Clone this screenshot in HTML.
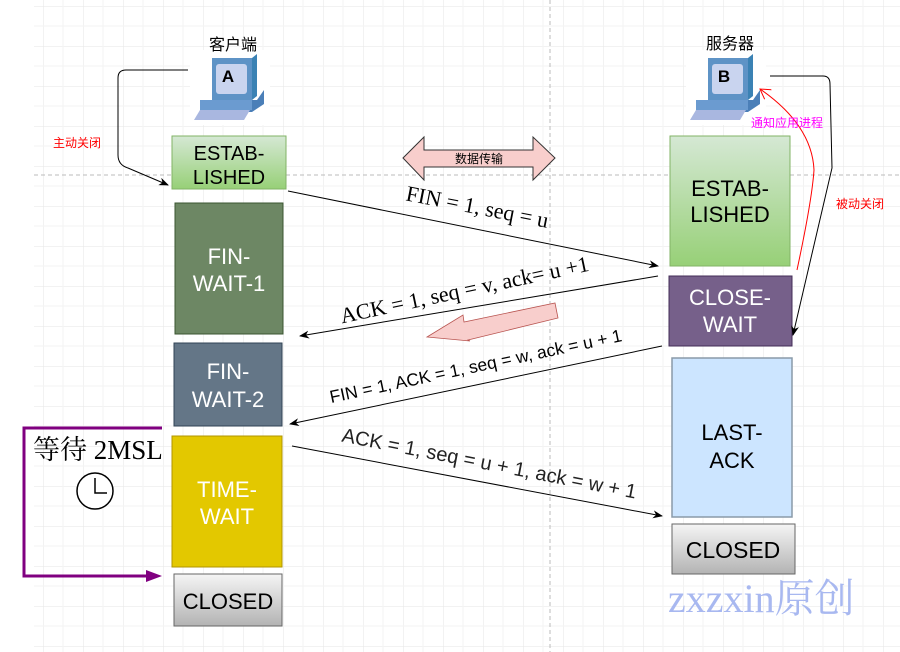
<!DOCTYPE html>
<html><head><meta charset="utf-8"><style>
body{margin:0;background:#fff}
svg{display:block}
</style></head><body>
<svg width="900" height="652" viewBox="0 0 900 652" xmlns="http://www.w3.org/2000/svg" font-family="Liberation Sans, Noto Sans CJK SC, sans-serif">
<defs>
<pattern id="g" x="3" y="6" width="40" height="40" patternUnits="userSpaceOnUse">
<path d="M0 0H40M0 0V40" stroke="#e6e6e6" stroke-width="1" fill="none"/>
<path d="M0 20H40M20 0V40" stroke="#f3f3f3" stroke-width="1" fill="none"/>
</pattern>
<linearGradient id="gr" x1="0" y1="0" x2="0" y2="1"><stop offset="0" stop-color="#d5e8d4"/><stop offset="1" stop-color="#97d077"/></linearGradient>
<linearGradient id="gy" x1="0" y1="0" x2="0" y2="1"><stop offset="0" stop-color="#f5f5f5"/><stop offset="1" stop-color="#b3b3b3"/></linearGradient>
<marker id="a" markerWidth="10" markerHeight="8" refX="9" refY="4" orient="auto" markerUnits="userSpaceOnUse"><path d="M0 0L10 4L0 8L3 4Z" fill="#000"/></marker>
<marker id="ar" markerWidth="12" markerHeight="12" refX="10" refY="6" orient="auto" markerUnits="userSpaceOnUse"><path d="M0 0L10 6L0 12" stroke="#f00" fill="none"/></marker>
</defs>
<rect x="34" y="0" width="866" height="652" fill="url(#g)"/>
<line x1="34" y1="175" x2="900" y2="175" stroke="#bbb" stroke-dasharray="4 3"/>
<line x1="550" y1="0" x2="550" y2="652" stroke="#bbb" stroke-dasharray="4 3"/>

<g id="pc">
<rect x="190" y="50" width="80" height="75" fill="#fff"/>
<polygon points="212,58 252,58 257,54 257,96 252,100 212,100" fill="#3b82b4"/>
<rect x="212" y="58" width="40" height="42" fill="#5e93c6"/>
<rect x="216" y="64" width="31" height="30" rx="3" fill="#c9d4ef"/>
<polygon points="200,100 257,100 264,90 264,104 252,112 200,112" fill="#4b7fb8"/>
<rect x="200" y="100" width="52" height="10" fill="#6b9bd0"/>
<polygon points="194,120 244,120 250,110 200,110" fill="#a9b7e0"/>
</g>
<text x="228" y="82" font-size="17" font-weight="bold" text-anchor="middle">A</text>
<use href="#pc" x="496"/>
<text x="724" y="82" font-size="17" font-weight="bold" text-anchor="middle">B</text>
<text x="233" y="50" font-size="16" text-anchor="middle">客户端</text>
<text x="730" y="49" font-size="16" text-anchor="middle">服务器</text>

<rect x="172" y="136" width="114" height="53" fill="url(#gr)" stroke="#82b366"/>
<text font-size="20" text-anchor="middle"><tspan x="229" y="160">ESTAB-</tspan><tspan x="229" y="184">LISHED</tspan></text>
<rect x="175" y="203" width="108" height="131" fill="#6d8764" stroke="#3a5431"/>
<text font-size="22" fill="#fff" text-anchor="middle"><tspan x="229" y="264">FIN-</tspan><tspan x="229" y="291">WAIT-1</tspan></text>
<rect x="174" y="343" width="108" height="83" fill="#647687" stroke="#314354"/>
<text font-size="22" fill="#fff" text-anchor="middle"><tspan x="228" y="379">FIN-</tspan><tspan x="228" y="407">WAIT-2</tspan></text>
<rect x="172" y="436" width="110" height="131" fill="#e3c800" stroke="#b09500"/>
<text font-size="22" fill="#fff" text-anchor="middle"><tspan x="227" y="497">TIME-</tspan><tspan x="227" y="524">WAIT</tspan></text>
<rect x="174" y="574" width="108" height="52" fill="url(#gy)" stroke="#666"/>
<text x="228" y="609" font-size="22" text-anchor="middle">CLOSED</text>

<rect x="670" y="136" width="120" height="130" fill="url(#gr)" stroke="#82b366"/>
<text font-size="22" text-anchor="middle"><tspan x="730" y="196">ESTAB-</tspan><tspan x="730" y="222">LISHED</tspan></text>
<rect x="669" y="276" width="123" height="70" fill="#76608a" stroke="#432d57"/>
<text font-size="22" fill="#fff" text-anchor="middle"><tspan x="730" y="305">CLOSE-</tspan><tspan x="730" y="332">WAIT</tspan></text>
<rect x="672" y="358" width="120" height="159" fill="#cce5ff" stroke="#8a9aa8" stroke-width="1.5"/>
<text font-size="22" text-anchor="middle"><tspan x="732" y="440">LAST-</tspan><tspan x="732" y="468">ACK</tspan></text>
<rect x="672" y="524" width="123" height="50" fill="url(#gy)" stroke="#666"/>
<text x="733" y="558" font-size="23" text-anchor="middle">CLOSED</text>

<text x="668" y="612" font-size="40" fill="#a8b8f0" font-family="Liberation Serif, Noto Serif CJK SC, serif">zxzxin原创</text>

<polygon points="403,158 424,137 424,150 533,150 533,137 555,158 533,180 533,167 424,167 424,180" fill="#f8cecc" stroke="#333"/>
<text x="479" y="163" font-size="12" text-anchor="middle">数据传输</text>

<polygon points="555,303 558,318 468,340 470,341 427,337 463,315 464,322" fill="#f8cecc" stroke="#b85450" stroke-width="0.8"/>

<line x1="288" y1="191" x2="658" y2="266" stroke="#000" marker-end="url(#a)"/>
<text x="476" y="214" font-size="22" font-family="Liberation Serif, serif" text-anchor="middle" transform="rotate(11 476 214)">FIN = 1, seq = u</text>
<line x1="658" y1="276" x2="300" y2="336" stroke="#000" marker-end="url(#a)"/>
<text x="466" y="297" font-size="22" font-family="Liberation Serif, serif" text-anchor="middle" transform="rotate(-12 466 297)">ACK = 1, seq = v, ack= u +1</text>
<line x1="662" y1="346" x2="290" y2="424" stroke="#000" marker-end="url(#a)"/>
<text x="477" y="372" font-size="17.5" text-anchor="middle" transform="rotate(-12 477 372)">FIN = 1, ACK = 1, seq = w, ack = u + 1</text>
<line x1="292" y1="446" x2="662" y2="516" stroke="#000" marker-end="url(#a)"/>
<text x="488" y="470" font-size="20" fill="#222" text-anchor="middle" transform="rotate(11 488 470)">ACK = 1, seq = u + 1, ack = w + 1</text>

<path d="M188 70 H126 Q118 70 118 78 V155 Q118 165 128 168 L168 185" stroke="#000" fill="none" marker-end="url(#a)"/>
<text x="53" y="147" font-size="12" fill="#f00">主动关闭</text>
<path d="M770 76 H823 Q830 76 830 84 L832 168 L793 335" stroke="#000" fill="none" marker-end="url(#a)"/>
<text x="836" y="208" font-size="12" fill="#f00">被动关闭</text>
<path d="M797 270 Q812 200 814 170 Q812 125 760 89" stroke="#f00" fill="none" marker-end="url(#ar)"/>
<text x="751" y="127" font-size="12" fill="#f0f">通知应用进程</text>

<path d="M162 428 H24 V576 H148" stroke="#800080" stroke-width="3" fill="none"/>
<polygon points="146,570 162,576 146,582" fill="#800080"/>
<text x="33" y="459" font-size="27" font-family="Liberation Serif, Noto Serif CJK SC, serif">等待 2MSL</text>
<circle cx="95" cy="491" r="18" fill="#fff" stroke="#000" stroke-width="1.5"/>
<path d="M95 478 V493 H107" stroke="#000" stroke-width="1.5" fill="none"/>
</svg>
</body></html>
